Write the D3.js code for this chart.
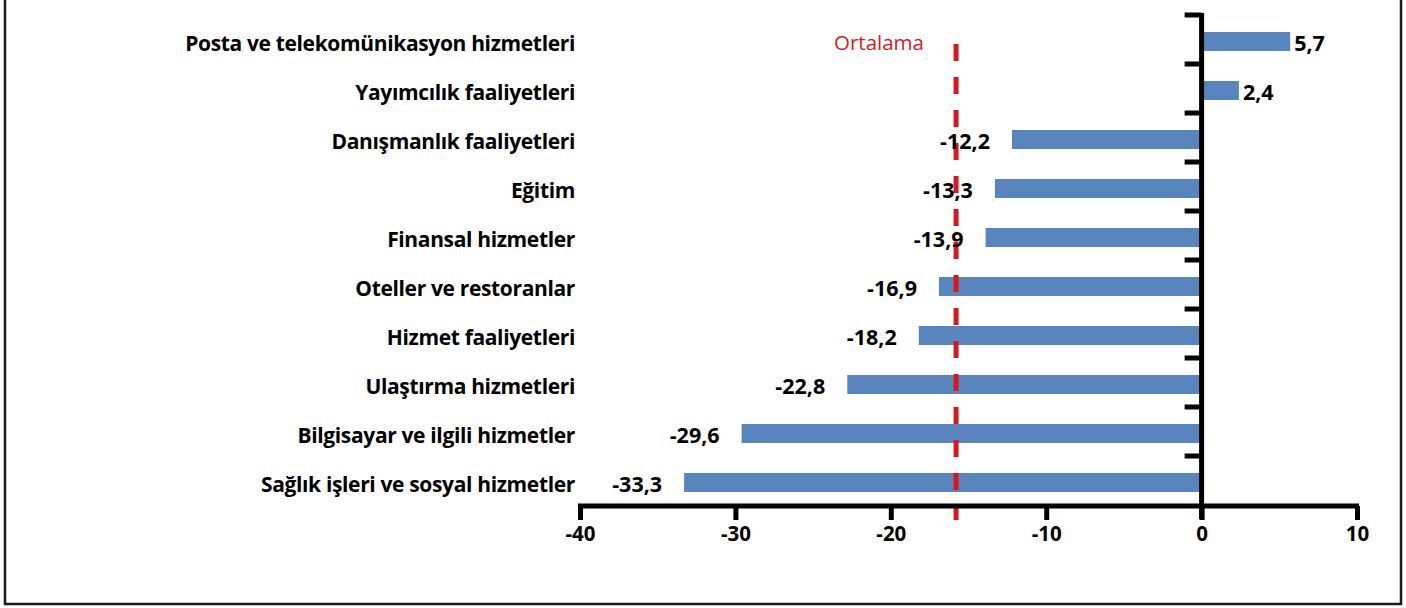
<!DOCTYPE html>
<html>
<head>
<meta charset="utf-8">
<script src="https://cdn.jsdelivr.net/npm/d3@7"></script>
<style>
  html, body { margin: 0; padding: 0; background: #fff; }
  svg { display: block; font-family: "Open Sans", "Noto Sans", sans-serif; }
</style>
</head>
<body>
<div id="chart"></div>
<script>
const categories = [
    "Posta ve telekomünikasyon hizmetleri",
    "Yayımcılık faaliyetleri",
    "Danışmanlık faaliyetleri",
    "Eğitim",
    "Finansal hizmetler",
    "Oteller ve restoranlar",
    "Hizmet faaliyetleri",
    "Ulaştırma hizmetleri",
    "Bilgisayar ve ilgili hizmetler",
    "Sağlık işleri ve sosyal hizmetler"
];
const values = [5.7, 2.4, -12.2, -13.3, -13.9, -16.9, -18.2, -22.8, -29.6, -33.3];
const valueLabels = ["5,7", "2,4", "-12,2", "-13,3", "-13,9", "-16,9", "-18,2", "-22,8", "-29,6", "-33,3"];
const xTicks = [-40, -30, -20, -10, 0, 10];
const meanValue = -15.8;
const meanLabel = "Ortalama";

const width = 1406, height = 608;
const barColor = "#5885be";
const meanColor = "#d7191f";

const svg = d3.select("#chart").append("svg")
    .attr("width", width)
    .attr("height", height);

// outer frame
svg.append("rect")
    .attr("x", 5).attr("y", -2)
    .attr("width", 1396).attr("height", 606)
    .attr("fill", "none")
    .attr("stroke", "#1a1a1a")
    .attr("stroke-width", 2.5);

const x = d3.scaleLinear().domain([-40, 10]).range([580, 1357]);
const y = d3.scaleBand().domain(categories).range([15, 505]);
const barH = 19;

// bars
svg.append("g").selectAll("rect").data(values).enter().append("rect")
    .attr("x", d => Math.min(x(0), x(d)))
    .attr("y", (d, i) => y(categories[i]) + y.bandwidth() / 2 - barH / 2 + 2)
    .attr("width", d => Math.abs(x(d) - x(0)))
    .attr("height", barH)
    .attr("fill", barColor);

// mean line
svg.append("line")
    .attr("x1", x(meanValue)).attr("x2", x(meanValue))
    .attr("y1", 44).attr("y2", 520)
    .attr("stroke", meanColor)
    .attr("stroke-width", 5)
    .attr("stroke-dasharray", "17,16");

svg.append("text")
    .attr("x", 879).attr("y", 50)
    .attr("text-anchor", "middle")
    .attr("fill", meanColor)
    .style("font-size", "20.5px")
    .text(meanLabel);

// x axis
const xAxis = svg.append("g")
    .attr("transform", "translate(0,506)")
    .call(d3.axisBottom(x).tickValues(xTicks).tickSize(14).tickSizeOuter(0).tickFormat(d3.format("d")));
xAxis.select(".domain").attr("stroke", "#000").attr("stroke-width", 5)
    .attr("d", `M${x(-40) - 2},0H${x(10) + 2}`);
xAxis.selectAll(".tick line").attr("stroke", "#000").attr("stroke-width", 5);
xAxis.selectAll(".tick text")
    .attr("y", 20)
    .attr("fill", "#000")
    .style("font-size", "20.5px")
    .style("font-weight", 700)
    .style("font-family", "'Open Sans', sans-serif")
    .text(d => d < 0 ? "-" + Math.abs(d) : d);

// y axis with boundary ticks
const yAxisG = svg.append("g");
yAxisG.append("line")
    .attr("x1", x(0)).attr("x2", x(0))
    .attr("y1", y.range()[0] - 2).attr("y2", y.range()[1] + 14)
    .attr("stroke", "#000").attr("stroke-width", 5);
const boundaries = categories.map(c => y(c));
yAxisG.selectAll("line.tk").data(boundaries).enter().append("line")
    .attr("class", "tk")
    .attr("x1", x(0) - 17).attr("x2", x(0))
    .attr("y1", d => d).attr("y2", d => d)
    .attr("stroke", "#000").attr("stroke-width", 5);

// category labels
svg.append("g").selectAll("text").data(categories).enter().append("text")
    .attr("x", 575)
    .attr("y", d => y(d) + y.bandwidth() / 2 + 11)
    .attr("text-anchor", "end")
    .style("font-size", "21px")
    .style("font-weight", 700)
    .style("letter-spacing", "-0.35px")
    .attr("fill", "#000")
    .text(d => d);

// value labels
svg.append("g").selectAll("text").data(values).enter().append("text")
    .attr("x", d => d >= 0 ? x(d) + 4 : x(d) - 22)
    .attr("y", (d, i) => y(categories[i]) + y.bandwidth() / 2 + 11)
    .attr("text-anchor", d => d >= 0 ? "start" : "end")
    .style("font-size", "21.5px")
    .style("font-weight", 700)
    .attr("fill", "#000")
    .text((d, i) => valueLabels[i]);
</script>
</body>
</html>
